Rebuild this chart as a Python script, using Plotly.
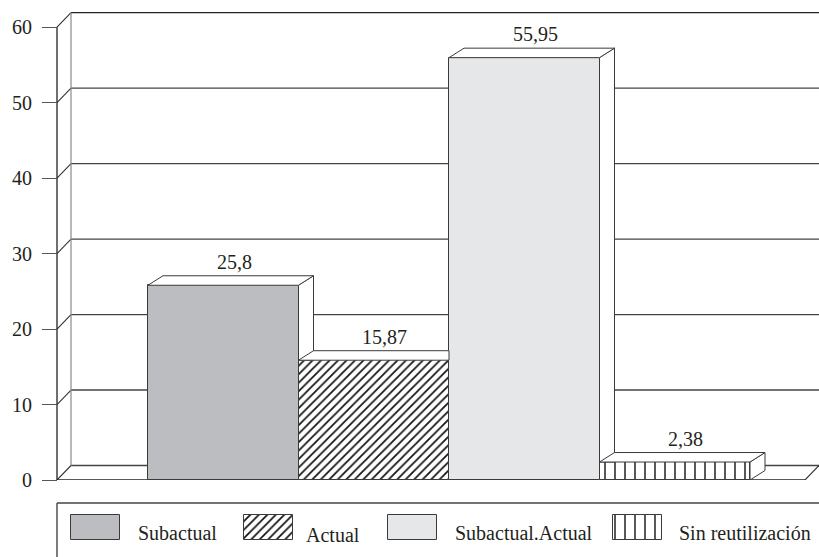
import plotly.graph_objects as go

# ---------------- data ----------------
series = ["Subactual", "Actual", "Subactual.Actual", "Sin reutilización"]
values = [25.8, 15.87, 55.95, 2.38]
value_labels = ["25,8", "15,87", "55,95", "2,38"]
y_ticks = [0, 10, 20, 30, 40, 50, 60]
y_tick_text = ["0", "10", "20", "30", "40", "50", "60"]

# ---------------- styles ----------------
face_colors = ["#bcbdc0", "#ffffff", "#e6e7e8", "#ffffff"]
pattern_shapes = ["", "/", "", "|"]
pattern_sizes = [6, 6, 6, 10]
pattern_solidity = [0.3, 0.28, 0.3, 0.14]
FONT = "'Liberation Serif', 'Times New Roman', Times, 'DejaVu Serif', serif"
INK = "#231f20"
EDGE = "#3a3a3a"

W, H = 819, 557
M_L, M_T, M_R, M_B = 50, 12, 0, 0
Y0_PX = 480            # pixel row of value 0 (front)
Y_TOP = 62             # axis value at top edge of plot area
BAR_PX = 150.5         # bar width in px
FIRST_BAR_LEFT_PX = 148
WALL_PX = 57           # front edge of the left wall
WALL_D = (14, 14.5)    # wall depth offset (px)
BAR_D = (15, 9.5)      # bar depth offset (px)
PLOT_R_PX = W - M_R

ppy = (Y0_PX - M_T) / Y_TOP


def xu(px):
    return (px - FIRST_BAR_LEFT_PX) / BAR_PX - 0.5


dxw, dyw = WALL_D[0] / BAR_PX, WALL_D[1] / ppy
dxb, dyb = BAR_D[0] / BAR_PX, BAR_D[1] / ppy
x_lo, x_hi = xu(M_L), xu(PLOT_R_PX)
xF = xu(WALL_PX)
xB = xF + dxw
xFR = x_hi - dxw

paper_h = H - M_T - M_B
paper_w = W - M_L - M_R
y_dom0 = (H - M_B - Y0_PX) / paper_h

fig = go.Figure()
shapes = []


def line(x0, y0, x1, y1, color="#3a3a3a", width=1.2):
    shapes.append(dict(type="line", xref="x", yref="y", x0=x0, y0=y0, x1=x1, y1=y1,
                       line=dict(color=color, width=width), layer="below"))


# back wall + left wall gridlines
for v in y_ticks:
    col = "#222222" if v == max(y_ticks) else "#444444"
    line(xF, v, xB, v + dyw, "#333333", 1.1)
    line(xB, v + dyw, x_hi, v + dyw, col, 1.3)
# back wall left edge
line(xB, dyw, xB, max(y_ticks) + dyw, "#8a8a8a", 1.2)
# front wall edge
line(xF, 0, xF, max(y_ticks), "#222222", 1.3)
# floor
line(xF, 0, xFR, 0, "#222222", 1.6)
line(xFR, 0, x_hi, dyw, "#333333", 1.1)

# front faces of bars
for i, (s, v) in enumerate(zip(series, values)):
    fig.add_trace(go.Bar(
        x=[i], y=[v], width=1, name=s, showlegend=False, hoverinfo="skip",
        marker=dict(color=face_colors[i], line=dict(color=EDGE, width=1),
                    pattern=dict(shape=pattern_shapes[i], fgcolor="#111111",
                                 bgcolor=face_colors[i], size=pattern_sizes[i],
                                 solidity=pattern_solidity[i], fillmode="replace")),
        xaxis="x", yaxis="y"))


def clip(poly, f):
    out = []
    n = len(poly)
    for k in range(n):
        a, b = poly[k], poly[(k + 1) % n]
        fa, fb = f(a), f(b)
        if fa >= 0:
            out.append(a)
        if (fa >= 0) != (fb >= 0):
            t = fa / (fa - fb)
            out.append((a[0] + t * (b[0] - a[0]), a[1] + t * (b[1] - a[1])))
    return out


def add_face(poly):
    if len(poly) < 3:
        return
    xs = [p[0] for p in poly] + [poly[0][0]]
    ys = [p[1] for p in poly] + [poly[0][1]]
    fig.add_trace(go.Scatter(x=xs, y=ys, mode="lines", fill="toself", fillcolor="white",
                             line=dict(color=EDGE, width=1), hoverinfo="skip",
                             showlegend=False, xaxis="x", yaxis="y"))


for i, v in enumerate(values):
    L, R = i - 0.5, i + 0.5
    vnext = values[i + 1] if i + 1 < len(values) else None
    side = [(R, 0), (R, v), (R + dxb, v + dyb), (R + dxb, dyb)]
    top = [(L, v), (R, v), (R + dxb, v + dyb), (L + dxb, v + dyb)]
    if vnext is not None:
        side = clip(side, lambda p, c=vnext: p[1] - c)
        if vnext > v:
            top = clip(top, lambda p, r=R: r - p[0])
    add_face(side)
    add_face(top)

annotations = []
for i, (v, t) in enumerate(zip(values, value_labels)):
    annotations.append(dict(x=i, y=v + dyb, xref="x", yref="y", text=t, showarrow=False,
                            xshift=11, yshift=14, yanchor="middle",
                            font=dict(family=FONT, size=20, color=INK)))

# ---------------- legend (drawn in its own pixel-scaled subplot) ----------------
LEG_TOP_PX = 503
leg_swatch_left = [71, 244, 388, 613]
leg_text_left = [136, 304, 453, 677]
leg_text_y = [533, 535, 533, 533]
SW_W, SW_TOP, SW_BOT = 49, 515, 540

for i, s in enumerate(series):
    fig.add_trace(go.Bar(
        orientation="h", y=[(SW_TOP + SW_BOT) / 2], x=[SW_W], base=[leg_swatch_left[i]],
        width=SW_BOT - SW_TOP, showlegend=False, hoverinfo="skip",
        marker=dict(color=face_colors[i], line=dict(color=EDGE, width=1),
                    pattern=dict(shape=pattern_shapes[i], fgcolor="#111111",
                                 bgcolor=face_colors[i], size=pattern_sizes[i],
                                 solidity=pattern_solidity[i], fillmode="replace")),
        xaxis="x2", yaxis="y2"))
    annotations.append(dict(x=leg_text_left[i], y=leg_text_y[i], xref="x2", yref="y2",
                            text=s, showarrow=False, xanchor="left", yanchor="middle",
                            font=dict(family=FONT, size=20, color=INK)))

leg_top_paper = (H - M_B - LEG_TOP_PX) / paper_h
wall_paper_x = (WALL_PX - M_L) / paper_w
shapes.append(dict(type="line", xref="paper", yref="paper", x0=wall_paper_x, x1=1.05,
                   y0=leg_top_paper, y1=leg_top_paper, line=dict(color="#444444", width=1.4)))
shapes.append(dict(type="line", xref="paper", yref="paper", x0=wall_paper_x, x1=wall_paper_x,
                   y0=-0.1, y1=leg_top_paper, line=dict(color="#444444", width=1.4)))

fig.update_layout(
    width=W, height=H, autosize=False,
    margin=dict(l=M_L, r=M_R, t=M_T, b=M_B, pad=0, autoexpand=False),
    paper_bgcolor="white", plot_bgcolor="white",
    barmode="overlay", bargap=0,
    showlegend=False,
    font=dict(family=FONT, color=INK),
    shapes=shapes, annotations=annotations,
    xaxis=dict(domain=[0, 1], range=[x_lo, x_hi], visible=False, fixedrange=True),
    yaxis=dict(domain=[y_dom0, 1], range=[0, Y_TOP], anchor="free", position=wall_paper_x,
               tickmode="array", tickvals=y_ticks, ticktext=y_tick_text,
               ticks="outside", ticklen=15, tickwidth=1.2, tickcolor="#555555",
               showline=False, showgrid=False, zeroline=False, ticklabelstandoff=6,
               automargin=False,
               tickfont=dict(family=FONT, size=20, color=INK), fixedrange=True),
    xaxis2=dict(domain=[0, 1], range=[M_L, PLOT_R_PX], visible=False, anchor="y2",
                fixedrange=True),
    yaxis2=dict(domain=[0, (H - M_B - LEG_TOP_PX) / paper_h], range=[H - M_B, LEG_TOP_PX],
                visible=False, anchor="x2", fixedrange=True),
)

fig.write_html("out.html")
